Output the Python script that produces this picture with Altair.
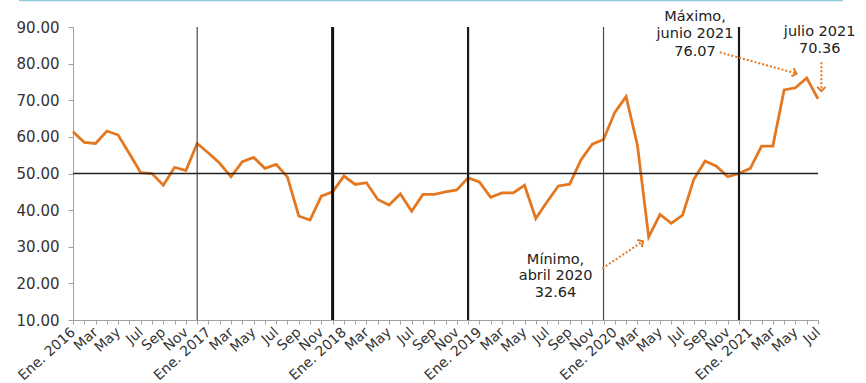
import math
import altair as alt
import pandas as pd

# Monthly index values, January 2016 to July 2021
values_2016 = [61.4, 58.5, 58.2, 61.6, 60.5, 55.4, 50.2, 50.0, 46.8, 51.7, 50.8, 58.2]
values_2017 = [55.6, 52.8, 49.1, 53.2, 54.4, 51.4, 52.5, 49.0, 38.4, 37.3, 43.8, 45.0]
values_2018 = [49.3, 47.0, 47.5, 42.9, 41.4, 44.4, 39.7, 44.3, 44.3, 45.0, 45.5, 48.8]
values_2019 = [47.7, 43.5, 44.7, 44.7, 46.8, 37.7, 42.3, 46.6, 47.1, 53.7, 58.0, 59.3]
values_2020 = [66.7, 71.0, 57.8, 32.64, 38.8, 36.4, 38.6, 48.4, 53.4, 52.0, 49.1, 50.0]
values_2021 = [51.4, 57.5, 57.5, 72.8, 73.4, 76.07, 70.36]

years = [2016, 2017, 2018, 2019, 2020, 2021]
month_abbr = ["Ene", "Feb", "Mar", "Abr", "May", "Jun", "Jul", "Ago", "Sep", "Oct", "Nov", "Dic"]

values = values_2016 + values_2017 + values_2018 + values_2019 + values_2020 + values_2021
n = len(values)

# Tick labels: every second month, January carries the year
tick_labels = []
for k in range(n):
    m = k % 12
    if m == 0:
        tick_labels.append(f"Ene. {years[k // 12]}")
    elif m % 2 == 0:
        tick_labels.append(month_abbr[m])
    else:
        tick_labels.append("")

# Year separators (December positions)
separator_idx = [11, 23, 35, 47, 59]
separator_kind = ["thin", "bold", "mid", "thin", "mid"]
separator_style = {"thin": (1.2, "#4a4a4a"), "bold": (3.0, "#111111"), "mid": (2.2, "#1a1a1a")}

reference_level = [50]

# Annotations: text lines and dotted arrows (month index, value)
note_text = ["Máximo,", "junio 2021", "76.07",
             "Mínimo,", "abril 2020", "32.64",
             "julio 2021", "70.36"]
note_x = [55.1, 55.1, 55.1, 42.75, 42.75, 42.75, 66.15, 66.15]
note_y = [92.8, 88.1, 83.25, 26.4, 21.9, 17.3, 88.7, 83.9]

arrow_x0 = [57.3, 46.9, 66.3]
arrow_y0 = [83.1, 24.1, 80.4]
arrow_x1 = [64.1, 50.5, 66.3]
arrow_y1 = [77.3, 31.5, 72.5]

W, H = 745, 293
X_DOM = [0, n - 1]
Y_DOM = [10, 90]
ORANGE = "#E47821"
FONT = "DejaVu Sans"

px_x = W / (X_DOM[1] - X_DOM[0])
px_y = H / (Y_DOM[1] - Y_DOM[0])

df = pd.DataFrame({"i": list(range(n)), "v": values})
sep_df = pd.DataFrame({
    "i": separator_idx,
    "w": [separator_style[k][0] for k in separator_kind],
    "c": [separator_style[k][1] for k in separator_kind],
})
ref_df = pd.DataFrame({"v": reference_level})
note_df = pd.DataFrame({"x": note_x, "y": note_y, "t": note_text})
arrow_df = pd.DataFrame({"x": arrow_x0, "y": arrow_y0, "x2": arrow_x1, "y2": arrow_y1})
arrow_df["ang"] = [
    math.degrees(math.atan2(-(b1 - b0) * px_y, (a1 - a0) * px_x)) % 360
    for a0, b0, a1, b1 in zip(arrow_x0, arrow_y0, arrow_x1, arrow_y1)
]

xs = alt.Scale(domain=X_DOM, nice=False, zero=False)
ys = alt.Scale(domain=Y_DOM, nice=False, zero=False)

label_array = "[" + ",".join("'" + s + "'" for s in tick_labels) + "]"

x_axis = alt.Axis(
    values=list(range(n)),
    labelExpr=label_array + "[datum.value]",
    labelAngle=-42,
    labelAlign="right",
    labelBaseline="middle",
    labelPadding=6,
    labelFont=FONT,
    labelFontSize=14,
    labelColor="#333333",
    labelOverlap=False,
    labelFlush=False,
    labelBound=False,
    tickSize=4,
    tickColor="#a0a0a0",
    domainColor="#a0a0a0",
    grid=False,
    title=None,
)
y_axis = alt.Axis(
    values=list(range(10, 91, 10)),
    format=".2f",
    labelFont=FONT,
    labelFontSize=15,
    labelColor="#333333",
    labelPadding=9,
    labelOverlap=False,
    labelFlush=False,
    tickSize=5,
    tickColor="#a0a0a0",
    domainColor="#a0a0a0",
    grid=False,
    title=None,
)


def X(field):
    return alt.X(field, scale=xs, axis=x_axis)


def Y(field):
    return alt.Y(field, scale=ys, axis=y_axis)


line = alt.Chart(df).mark_line(color=ORANGE, strokeWidth=2.8).encode(
    x=X("i:Q"), y=Y("v:Q"),
)

separators = alt.Chart(sep_df).mark_rule().encode(
    x=X("i:Q"),
    strokeWidth=alt.StrokeWidth("w:Q", scale=None),
    color=alt.Color("c:N", scale=None),
)

ref_line = alt.Chart(ref_df).mark_rule(color="#222222", strokeWidth=1.5).encode(
    y=Y("v:Q"),
)

arrows = alt.Chart(arrow_df).mark_rule(
    color=ORANGE, strokeWidth=2, strokeDash=[2, 2]
).encode(
    x=X("x:Q"), y=Y("y:Q"), x2="x2:Q", y2="y2:Q",
)

heads = alt.Chart(arrow_df).mark_point(
    shape="M -1 -1 L 0 0 L -1 1", filled=False, color=ORANGE, strokeWidth=2, size=70, opacity=1
).encode(
    x=X("x2:Q"), y=Y("y2:Q"),
    angle=alt.Angle("ang:Q", scale=None),
)

notes = alt.Chart(note_df).mark_text(
    font=FONT, fontSize=14.5, color="#222222", align="center", baseline="middle"
).encode(
    x=X("x:Q"), y=Y("y:Q"), text="t:N",
)

top_band = alt.Chart(ref_df).mark_rule(color="#8CCBE0", strokeWidth=1.5).encode(
    x=alt.value(-54), x2=alt.value(770), y=alt.value(-26.5),
)

chart = alt.layer(
    line, top_band, separators, ref_line, arrows, heads, notes
).properties(
    width=W,
    height=H,
    autosize=alt.AutoSizeParams(type="none"),
    padding={"left": 73, "top": 27, "right": 48, "bottom": 63},
    background="white",
).configure_view(strokeWidth=0)

chart.save("out.html", embed_options={"renderer": "svg", "actions": False})
